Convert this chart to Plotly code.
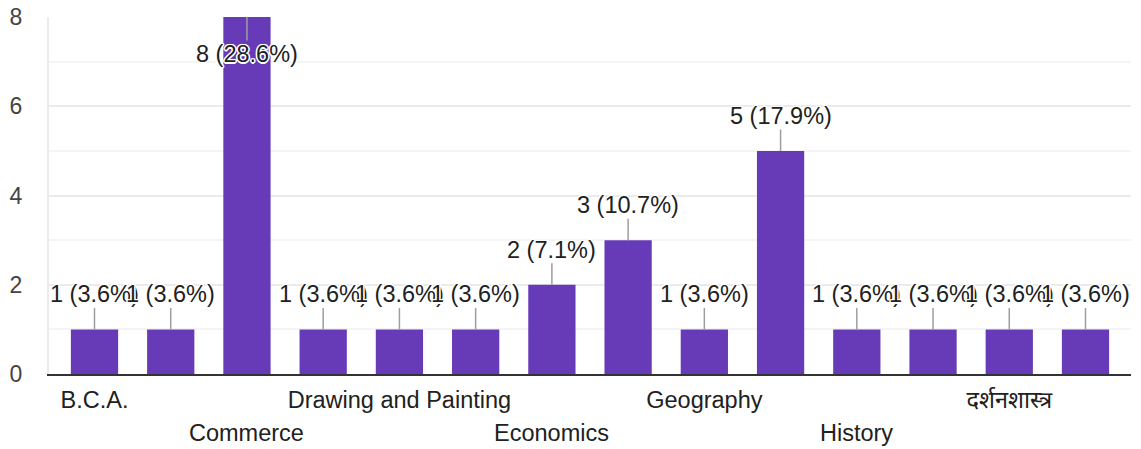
import plotly.graph_objects as go

categories = ["B.C.A.", "B.Com.", "Commerce", "Computer Science", "Drawing and Painting",
              "Earth Science", "Economics", "English", "Geography", "Hindi", "History",
              "Political Science", "दर्शनशास्त्र", "संस्कृत"]
values = [1, 1, 8, 1, 1, 1, 2, 3, 1, 5, 1, 1, 1, 1]
y_ticks = [0, 2, 4, 6, 8]

total = sum(values)
BAR = "#673ab7"
FONT = "Arial, 'Liberation Sans', 'Noto Sans Devanagari', 'Lohit Devanagari', sans-serif"
HALO = "white 1.5px 0px 0px, white -1.5px 0px 0px, white 0px 1.5px 0px, white 0px -1.5px 0px, white 1px 1px 0px, white -1px -1px 0px, white 1px -1px 0px, white -1px 1px 0px"

fig = go.Figure(go.Bar(x=categories, y=values, marker_color=BAR, marker_line_width=0,
                       hoverinfo="skip"))

ymax = max(y_ticks)
annotations = []
for i, (c, v) in enumerate(zip(categories, values)):
    label = f"{v} ({v / total * 100:.1f}%)"
    inside = v >= ymax
    annotations.append(dict(
        x=c, y=v, xref="x", yref="y", text=label, showarrow=True, arrowhead=0,
        arrowwidth=1.5, arrowcolor="#9e9e9e", ax=0, ay=37 if inside else -35,
        borderpad=0, font=dict(family=FONT, size=23.5, color="#212121", shadow=HALO),
    ))

# second row of category labels (alternate categories)
for i, c in enumerate(categories):
    if i % 4 == 2:
        annotations.append(dict(
            x=c, y=0, xref="x", yref="paper", text=c, showarrow=False,
            yanchor="middle", yshift=-59, font=dict(family=FONT, size=23.5, color="#212121"),
        ))

row1 = [c for i, c in enumerate(categories) if i % 4 == 0]

fig.update_layout(
    width=1141, height=449,
    margin=dict(l=49, r=10, t=17, b=75),
    paper_bgcolor="white", plot_bgcolor="white",
    bargap=0.38, showlegend=False,
    font=dict(family=FONT, color="#212121"),
    annotations=annotations,
    xaxis=dict(
        type="category", tickmode="array", tickvals=row1, ticktext=row1,
        tickfont=dict(family=FONT, size=23.5, color="#212121"),
        showline=True, linecolor="#333333", linewidth=2, showgrid=False,
        ticks="", ticklabelstandoff=4, fixedrange=True, automargin=False,
    ),
    yaxis=dict(
        range=[0, ymax], tickvals=y_ticks, ticktext=[str(t) for t in y_ticks],
        tickfont=dict(family=FONT, size=23, color="#444444"),
        showgrid=True, gridcolor="#ebebeb", gridwidth=2,
        minor=dict(dtick=1, showgrid=True, gridcolor="#f4f4f4", gridwidth=1.5),
        showline=True, linecolor="#ebebeb", linewidth=2, zeroline=False,
        ticks="outside", ticklen=20, tickcolor="rgba(0,0,0,0)",
        fixedrange=True, automargin=False,
    ),
)

fig.write_html(
    "out.html",
    config={"displayModeBar": False},
    post_script="document.body.style.margin='0';document.body.style.overflow='hidden';",
)
